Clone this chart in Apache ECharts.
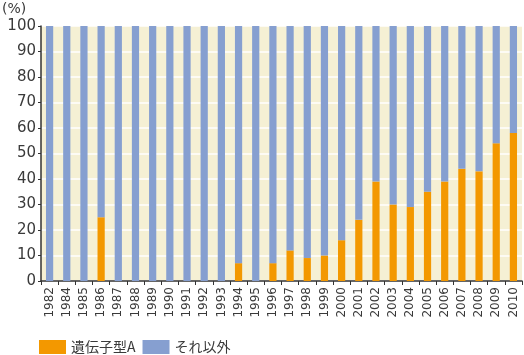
<!DOCTYPE html>
<html>
<head>
<meta charset="utf-8">
<script src="https://cdn.jsdelivr.net/npm/echarts@6/dist/echarts.min.js"></script>
<style>
html,body{margin:0;padding:0;background:#fff;}
#chart{width:524px;height:355px;}
</style>
</head>
<body>
<div id="chart"></div>
<script>
const years = ['1982','1984','1985','1986','1987','1988','1989','1990','1991','1992','1993','1994','1995','1996','1997','1998','1999','2000','2001','2002','2003','2004','2005','2006','2007','2008','2009','2010'];
const genotypeA = [0,0,0,25,0,0,0,0,0,0,0,7,0,7,12,9,10,16,24,39,30,29,35,39,44,43,54,58];
const others = [100,100,100,75,100,100,100,100,100,100,100,93,100,93,88,91,90,84,76,61,70,71,65,61,56,57,46,42];
const seriesNames = ['遺伝子型A','それ以外'];
const yTicks = [0,10,20,30,40,50,60,70,80,90,100];

const chart = echarts.init(document.getElementById('chart'), null, {renderer:'canvas'});
const font = 'DejaVu Sans, sans-serif';
chart.setOption({
  animation:false,
  backgroundColor:'#ffffff',
  textStyle:{fontFamily:font},
  graphic:[{type:'text',left:2,top:2,style:{text:'(%)',fontSize:14,fill:'#3a3a3a',fontFamily:font}}],
  legend:{
    left:39, top:340, padding:0, itemGap:7,
    itemWidth:27, itemHeight:14, icon:'rect',
    textStyle:{fontSize:14,color:'#3a3a3a',fontFamily:'Noto Sans CJK JP, sans-serif'},
    data:seriesNames
  },
  grid:{left:41,right:2,top:26,bottom:74,show:true,backgroundColor:'#f5f0d4',borderWidth:0},
  xAxis:{
    type:'category', data:years,
    axisLine:{lineStyle:{color:'#333',width:1.5}},
    axisTick:{show:true,length:4,lineStyle:{color:'#333'}},
    axisLabel:{rotate:90,fontSize:12,color:'#3a3a3a',margin:6,fontFamily:font}
  },
  yAxis:{
    type:'value', min:yTicks[0], max:yTicks[yTicks.length-1], interval:10,
    axisLine:{show:true,lineStyle:{color:'#333',width:1.5}},
    axisTick:{show:true,length:3,lineStyle:{color:'#333'}},
    splitLine:{show:true,lineStyle:{color:'#ffffff',width:1.5}},
    axisLabel:{fontSize:15,color:'#3a3a3a',margin:5,fontFamily:font}
  },
  series:[
    {name:seriesNames[0],type:'bar',stack:'s',data:genotypeA,barWidth:'42%',itemStyle:{color:'#f39800'}},
    {name:seriesNames[1],type:'bar',stack:'s',data:others,barWidth:'42%',itemStyle:{color:'#869fd0'}}
  ]
});
</script>
</body>
</html>
